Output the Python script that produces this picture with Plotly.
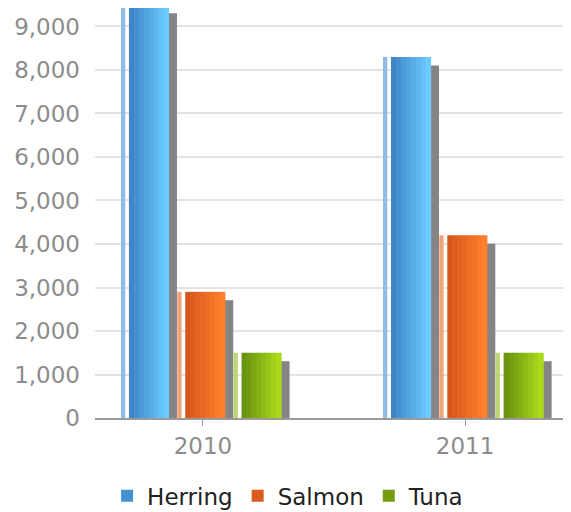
import plotly.graph_objects as go

# data
years = ['2010', '2011']
series_names = ['Herring', 'Salmon', 'Tuna']
herring = [9500, 8300]
salmon = [2900, 4200]
tuna = [1500, 1500]
values = [herring, salmon, tuna]

# colours: gradient left -> right, light side strip
styles = [
    dict(left='#3f86c8', right='#6ccbff', strip='#8fbde6'),
    dict(left='#d6561b', right='#ff802c', strip='#f2a377'),
    dict(left='#6a930f', right='#abd91a', strip='#bcd675'),
]

PX = 262.0  # pixels per category on the x axis


def u(p):
    return p / PX


def mix(c1, c2, t):
    a = [int(c1[i:i + 2], 16) for i in (1, 3, 5)]
    b = [int(c2[i:i + 2], 16) for i in (1, 3, 5)]
    return 'rgb(%d,%d,%d)' % tuple(round(a[k] + (b[k] - a[k]) * t) for k in range(3))


fig = go.Figure()

n_strips = 8
bar_w = 39.5
for i, (name, vals, st) in enumerate(zip(series_names, values, styles)):
    base = -74 + i * 56.3
    # shadow on the right
    fig.add_trace(go.Bar(
        x=years, y=[v - 195 for v in vals],
        offset=u(base + bar_w), width=u(8.5),
        marker=dict(color='#858585', line=dict(width=0)),
        showlegend=False, hoverinfo='skip'))
    # thin light strip on the left
    fig.add_trace(go.Bar(
        x=years, y=vals,
        offset=u(base - 8), width=u(4.3),
        marker=dict(color=st['strip'], line=dict(width=0)),
        showlegend=False, hoverinfo='skip'))
    # main bar drawn as vertical gradient strips
    sw = bar_w / n_strips
    for k in range(n_strips):
        t = k / (n_strips - 1)
        fig.add_trace(go.Bar(
            x=years, y=vals, name=name,
            offset=u(base + k * sw), width=u(sw + 0.6),
            marker=dict(color=mix(st['left'], st['right'], t), line=dict(width=0)),
            showlegend=(k == 1), legendgroup=name))

fig.update_layout(
    width=571, height=512,
    margin=dict(l=87, r=0, t=0, b=102),
    barmode='overlay',
    plot_bgcolor='white', paper_bgcolor='white',
    font=dict(family='DejaVu Sans', size=23, color='#8c8c8c'),
    legend=dict(orientation='h', x=0.399, xanchor='center', y=-0.19, yanchor='middle',
                font=dict(size=23, color='#222222'), traceorder='normal'),
    xaxis=dict(type='category', range=[-0.412, 1.435],
               showline=True, linecolor='#9a9a9a', linewidth=2,
               ticks='outside', ticklen=6, tickcolor='#9a9a9a',
               showgrid=False, zeroline=False),
    yaxis=dict(range=[0, 9425], dtick=1000, tickformat=',d',
               showgrid=True, gridcolor='#e3e3e3', gridwidth=2,
               zeroline=False, showline=False, ticklabelstandoff=14),
)

fig.write_html("out.html")
